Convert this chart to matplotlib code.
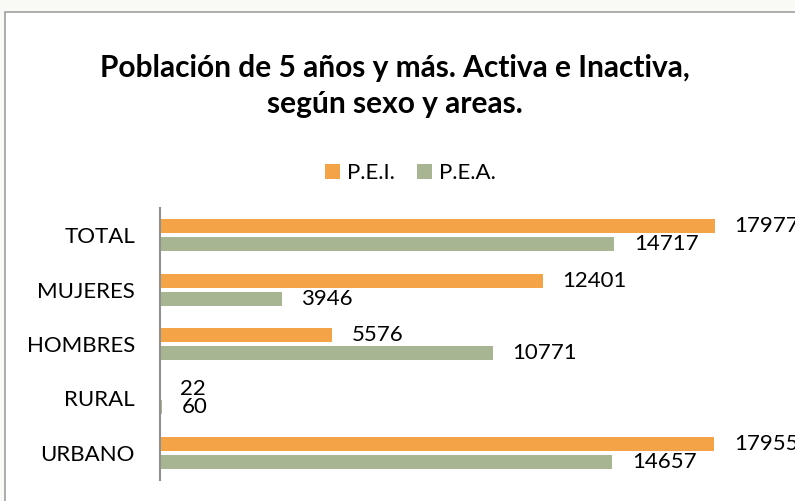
import matplotlib.pyplot as plt
from matplotlib.patches import Rectangle
import numpy as np

# Data (bottom to top)
categorias = ['URBANO', 'RURAL', 'HOMBRES', 'MUJERES', 'TOTAL']
pei = [17955, 22, 5576, 12401, 17977]
pea = [14657, 60, 10771, 3946, 14717]

plt.rcParams['font.family'] = ['Lato', 'DejaVu Sans']

naranja = '#F4A446'
verde = '#A7B592'
fs = 16

fig = plt.figure(figsize=(7.95, 5.01), dpi=100, facecolor='#F9F9F5')

# white chart area with a grey frame (cut off at the right and bottom)
fig.patches.append(Rectangle((5 / 795, -0.1), 1.1, (501 - 12) / 501 + 0.1,
                             transform=fig.transFigure, facecolor='white',
                             edgecolor='#A0A0A0', linewidth=1.2, zorder=-1))

ax = fig.add_axes([160 / 795, 21 / 501, 635 / 795, 272 / 501])
ax.set_zorder(2)
ax.set_facecolor('none')

y = np.arange(len(categorias))
h = 0.26
off = 0.165
ax.barh(y + off, pei, height=h, color=naranja, label='P.E.I.')
ax.barh(y - off, pea, height=h, color=verde, label='P.E.A.')

for yi, v in zip(y, pei):
    ax.annotate(str(v), (v, yi + off), xytext=(14, 0), textcoords='offset points',
                va='center', ha='left', fontsize=fs, annotation_clip=False)
for yi, v in zip(y, pea):
    ax.annotate(str(v), (v, yi - off), xytext=(14, 0), textcoords='offset points',
                va='center', ha='left', fontsize=fs, annotation_clip=False)

ax.set_xlim(0, 20570)
ax.set_ylim(-0.5, len(categorias) - 0.5)
ax.set_yticks(y)
ax.set_yticklabels(categorias, fontsize=fs)
ax.tick_params(axis='y', length=0, pad=18)
ax.set_xticks([])
for s in ['top', 'right', 'bottom']:
    ax.spines[s].set_visible(False)
ax.spines['left'].set_color('#909090')
ax.spines['left'].set_linewidth(1.5)

fig.text(0.497, 0.829, 'Población de 5 años y más. Activa e Inactiva,\nsegún sexo y areas.',
         ha='center', va='center', fontsize=21.5, fontweight='bold', linespacing=1.35)

fig.legend(loc='center', bbox_to_anchor=(0.516, 0.654), ncol=2, frameon=False,
           fontsize=fs, handlelength=0.7, handleheight=0.7, handletextpad=0.3,
           columnspacing=1.0)

fig.savefig('out.png', dpi=100, facecolor=fig.get_facecolor())
